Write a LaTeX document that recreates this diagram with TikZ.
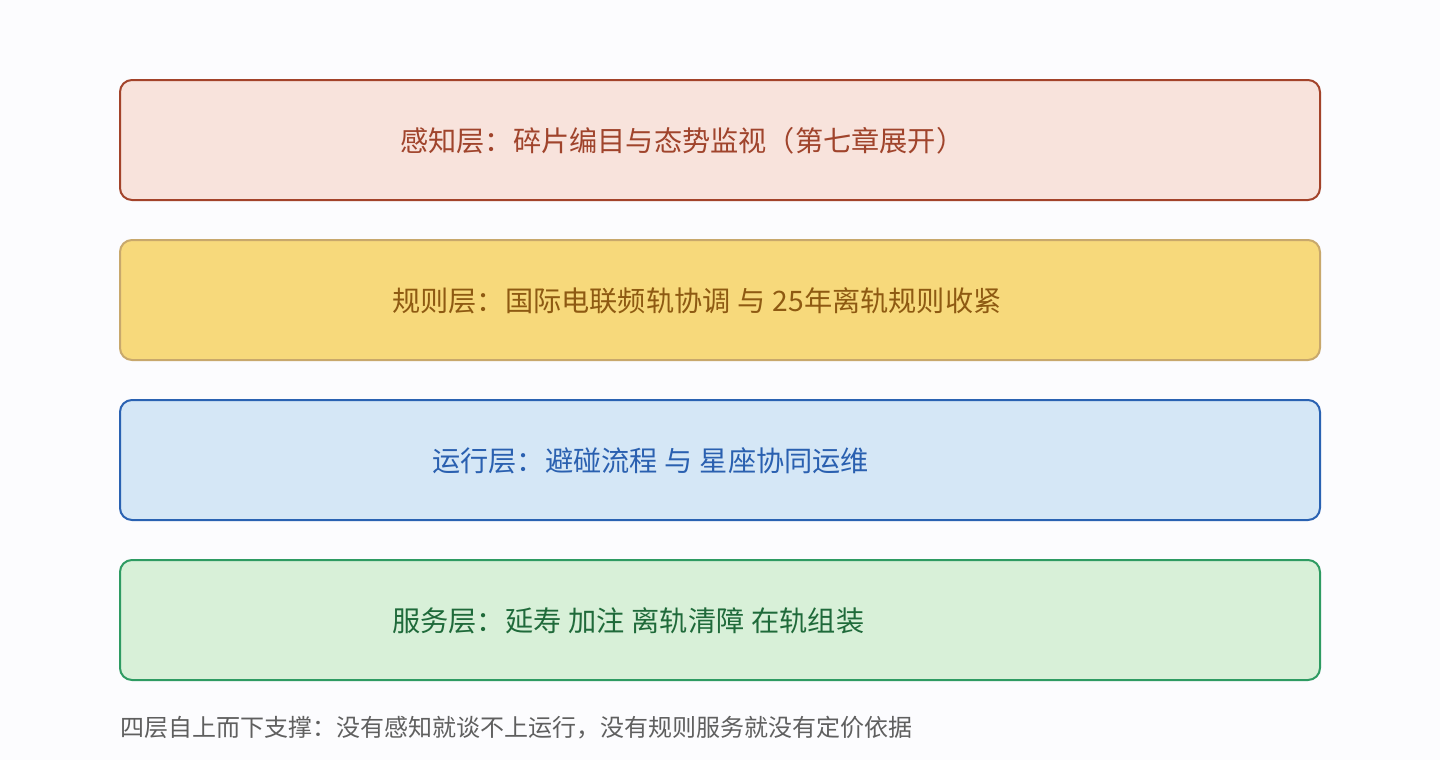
\documentclass[tikz,border=0pt]{standalone}
\usepackage{fontspec}
\setmainfont{Noto Sans CJK SC}
\definecolor{bgc}{HTML}{FCFCFE}
\definecolor{f1}{HTML}{F8E3DC}\definecolor{d1}{HTML}{A3432A}\definecolor{t1}{HTML}{A0442C}
\definecolor{f2}{HTML}{F7D97B}\definecolor{d2}{HTML}{C8A86C}\definecolor{t2}{HTML}{8E5A12}
\definecolor{f3}{HTML}{D5E7F6}\definecolor{d3}{HTML}{2A62B2}\definecolor{t3}{HTML}{2A60B0}
\definecolor{f4}{HTML}{D8F0D8}\definecolor{d4}{HTML}{2E9B62}\definecolor{t4}{HTML}{1F6A3A}
\definecolor{capc}{HTML}{5F5F5F}
\newcommand{\gsp}{\hspace{7pt}}
\tikzset{
  layerbox/.style={rounded corners=12pt, line width=2pt, minimum width=1200pt, minimum height=120pt, inner sep=0pt},
  layertext/.style={anchor=west, font=\fontsize{28.2pt}{32pt}\selectfont, inner sep=0pt},
}
\begin{document}
\begin{tikzpicture}[x=1pt,y=1pt]
\fill[bgc] (0,0) rectangle (1440,-760);
\useasboundingbox (0,0) rectangle (1440,-760);
\node[layerbox, draw=d1, fill=f1] (b1) at (720,-140) {};
\node[layerbox, draw=d2, fill=f2] (b2) at (720,-300) {};
\node[layerbox, draw=d3, fill=f3] (b3) at (720,-460) {};
\node[layerbox, draw=d4, fill=f4] (b4) at (720,-620) {};
\node[layertext, text=t1] (l1) at (400,-141) {感知层：碎片编目与态势监视（第七章展开）};
\node[layertext, text=t2] (l2) at (392,-301) {规则层：国际电联频轨协调\gsp 与\gsp 25年离轨规则收紧};
\node[layertext, text=t3] (l3) at (432,-461) {运行层：避碰流程\gsp 与\gsp 星座协同运维};
\node[layertext, text=t4] (l4) at (392,-621) {服务层：延寿\gsp 加注\gsp 离轨清障\gsp 在轨组装};
\node[anchor=west, inner sep=0pt, text=capc, font=\fontsize{24pt}{28pt}\selectfont] (cap) at (120,-728) {四层自上而下支撑：没有感知就谈不上运行，没有规则服务就没有定价依据};
\end{tikzpicture}
\end{document}
